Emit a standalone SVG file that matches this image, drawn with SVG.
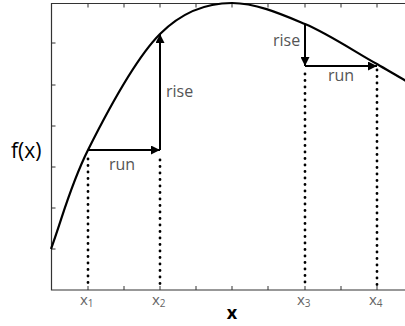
<svg xmlns="http://www.w3.org/2000/svg" width="405" height="326" viewBox="0 0 405 326">
<defs>
<marker id="ah" viewBox="0 0 10 10" refX="10" refY="5" markerWidth="9" markerHeight="9" markerUnits="userSpaceOnUse" orient="auto">
<path d="M0,0 L10,5 L0,10 Z" fill="#000"/>
</marker>
<style>
.frame{fill:none;stroke:#333;stroke-width:1.2}
.tick{stroke:#333;stroke-width:1}
.curve{fill:none;stroke:#000;stroke-width:2.2}
.arrow{fill:none;stroke:#000;stroke-width:2;marker-end:url(#ah)}
.dot{fill:none;stroke:#000;stroke-width:2.8;stroke-linecap:round;stroke-dasharray:0 6.5}
.lbl{font-family:"Open Sans","Liberation Sans",sans-serif;fill:#555;font-size:16px}
.sub{font-family:"Open Sans","Liberation Sans",sans-serif;fill:#666;font-size:15px}
.ax{font-family:"Open Sans","Liberation Sans",sans-serif;fill:#000}
</style>
</defs>
<rect width="405" height="326" fill="#fff"/>
<g id="axes">
<path class="frame" d="M406,3.5 H51.5 V290 H406"/>
<path class="tick" d="M88,3.5v4 M124,3.5v4 M160,3.5v4 M196,3.5v4 M232,3.5v4 M268,3.5v4 M305,3.5v4 M341,3.5v4 M377,3.5v4
M88,290v-4 M124,290v-4 M160,290v-4 M196,290v-4 M232,290v-4 M268,290v-4 M305,290v-4 M341,290v-4 M377,290v-4
M51.5,43h4 M51.5,85h4 M51.5,126h4 M51.5,167h4 M51.5,208h4 M51.5,249h4"/>
</g>
<g id="curve">
<path class="curve" d="M51,249 C63,216 70,186 88,150 C106,114 136,58 160,34 C184,10 208,3 232,3 C256,3 281,14 305,24 C329,34 360,55 377,64 C387,70 396,75 406,81"/>
</g>
<g id="connectors">
<path class="arrow" d="M88,150 H160"/>
<path class="arrow" d="M160,150 V34"/>
<path class="arrow" d="M305,24 V66"/>
<path class="arrow" d="M305,66 H377"/>
<path class="dot" d="M88,159 V286"/>
<path class="dot" d="M160,160 V286"/>
<path class="dot" d="M305,74 V286"/>
<path class="dot" d="M377,70 V286"/>
</g>
<g id="labels">
<text class="ax" x="11" y="158" font-size="21">f(x)</text>
<text class="ax" x="232" y="319" font-size="18" font-weight="bold" text-anchor="middle">x</text>
<text class="lbl" x="166" y="97">rise</text>
<text class="lbl" x="109" y="170">run</text>
<text class="lbl" x="273" y="46">rise</text>
<text class="lbl" x="328" y="81">run</text>
<text class="sub" x="80" y="305">x<tspan font-size="10" dy="2">1</tspan></text>
<text class="sub" x="152" y="305">x<tspan font-size="10" dy="2">2</tspan></text>
<text class="sub" x="297" y="305">x<tspan font-size="10" dy="2">3</tspan></text>
<text class="sub" x="369" y="305">x<tspan font-size="10" dy="2">4</tspan></text>
</g>
</svg>
